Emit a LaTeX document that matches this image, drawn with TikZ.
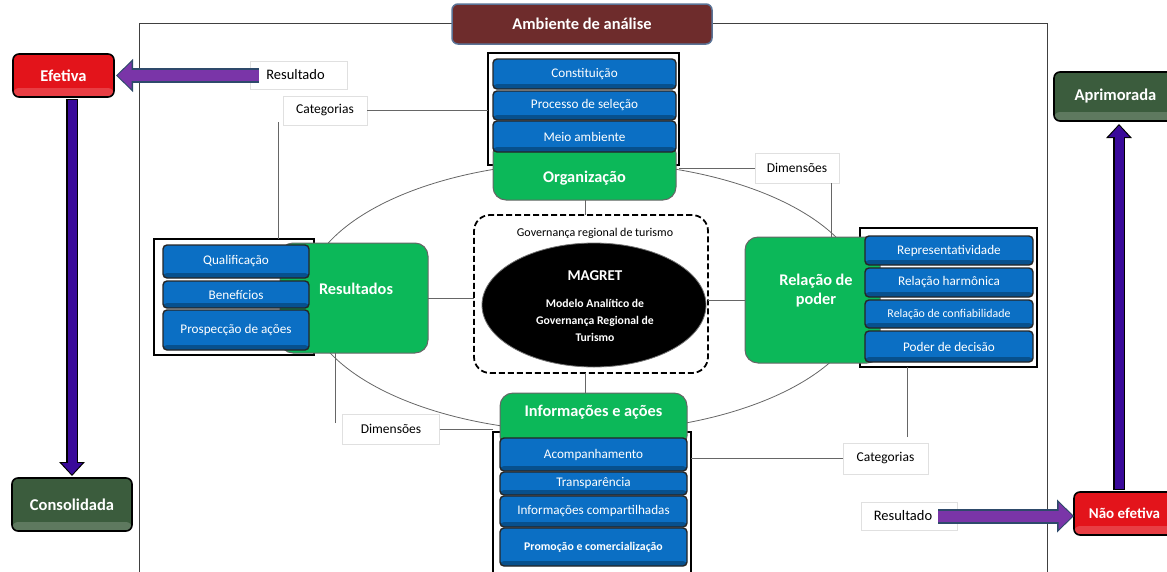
\documentclass[tikz,border=0pt]{standalone}
\usepackage{fontspec}
\setmainfont{Carlito}
\usetikzlibrary{arrows.meta,shapes.geometric}
\definecolor{blueC}{HTML}{0B6FC4}
\definecolor{greenC}{HTML}{0CB859}
\definecolor{redC}{HTML}{E3141B}
\definecolor{dgreenC}{HTML}{3B5C3D}
\definecolor{ambC}{HTML}{6E2C2C}
\definecolor{ambB}{HTML}{5A7396}
\definecolor{purpC}{HTML}{7A35A8}
\definecolor{purpB}{HTML}{2E4A6B}
\definecolor{indC}{HTML}{3A0A9A}
\begin{document}
\begin{tikzpicture}[x=1pt,y=-1pt,
  every node/.style={inner sep=0pt, outer sep=0pt},
  bbox/.style={draw=black!85, line width=1.4pt, fill=blueC, rounded corners=4pt, text=white,
    font=\fontsize{13.2}{15}\selectfont,
    path picture={\fill[black,opacity=.28] (path picture bounding box.south west) rectangle ([yshift=5pt]path picture bounding box.south east);}},
  grn/.style={draw=black!60, line width=1pt, fill=greenC, rounded corners=13pt},
  gtxt/.style={text=white, font=\bfseries\fontsize{16.3}{19}\selectfont, align=center},
  outer/.style={draw=black, line width=1.8pt},
  lbl/.style={draw=black!12, fill=white, line width=0.6pt, font=\fontsize{13.5}{16}\selectfont},
  conn/.style={draw=black!60, line width=0.9pt},
  btn/.style={draw=black, line width=1.6pt, rounded corners=6pt, text=white,
    font=\bfseries\fontsize{16.5}{19}\selectfont,
    path picture={\fill[white,opacity=.18] (path picture bounding box.south west) rectangle ([yshift=9pt]path picture bounding box.south east);}},
  fatout/.style={line width=15pt, draw=purpB, -{Triangle[length=17pt,width=32pt]}},
  fatin/.style={line width=11pt, draw=purpC, shorten >=1.5pt, -{Triangle[length=14pt,width=26pt]}},
  vout/.style={line width=12pt, draw=black, -{Triangle[length=14pt,width=25pt]}},
  vin/.style={line width=9pt, draw=indC, shorten >=1.5pt, -{Triangle[length=11.5pt,width=20pt]}}
]
\useasboundingbox (0,0) rectangle (1167,571);

% frame
\draw[black!75, line width=1pt] (139,580) -- (139,23) -- (1047,23) -- (1047,580);
% big ellipse
\draw[black!60, line width=0.8pt] (585,297) ellipse [x radius=280, y radius=135];

% Ambiente
\node[draw=ambB, line width=1.5pt, fill=ambC, rounded corners=6pt, text=white,
  font=\bfseries\fontsize{16.4}{19}\selectfont, minimum width=260pt, minimum height=40pt] (amb) at (582,24) {Ambiente de análise};

% ---------- labels ----------
\node[lbl, minimum width=97pt, minimum height=28pt, font=\fontsize{14.5}{17}\selectfont] (resTop) at (298.5,75) {\hspace*{-6pt}Resultado};
\node[lbl, minimum width=84pt, minimum height=29pt] (catTL) at (325,110.5) {Categorias};
\node[lbl, minimum width=84pt, minimum height=30pt] (dimTR) at (797,168) {Dimensões};
\node[lbl, minimum width=85pt, minimum height=31pt] (catBR) at (885.5,458.5) {Categorias};
\node[lbl, minimum width=96pt, minimum height=28pt, font=\fontsize{14.5}{17}\selectfont] (resBR) at (909,516) {Resultado\hspace*{12pt}};
\node[lbl, minimum width=97pt, minimum height=30pt] (dimBL) at (391,429) {Dimensões};

% ---------- Organização ----------
\node[outer, minimum width=191pt, minimum height=112pt] (orgO) at (583.5,109) {};
\node[grn, minimum width=183pt, minimum height=60pt] (orgG) at (584.5,170) {};
\node[gtxt] (orgT) at (584.5,178) {Organização};
\node[bbox, minimum width=183pt, minimum height=30pt] (o1) at (584.5,74) {Constituição};
\node[bbox, minimum width=183pt, minimum height=29pt] (o2) at (584.5,105.5) {Processo de seleção};
\node[bbox, minimum width=183pt, minimum height=31pt] (o3) at (584.5,136.5) {Meio ambiente};

% ---------- Resultados ----------
\node[outer, minimum width=160pt, minimum height=116pt] (resO) at (234,297) {};
\node[grn, minimum width=148pt, minimum height=110pt] (resG) at (354,298) {};
\node[gtxt] (resT) at (356,289) {Resultados};
\node[bbox, minimum width=146pt, minimum height=33pt] (r1) at (236,261.5) {Qualificação};
\node[bbox, minimum width=146pt, minimum height=27pt] (r2) at (236,294.5) {Benefícios};
\node[bbox, minimum width=146pt, minimum height=40pt] (r3) at (236,330) {Prospecção de ações};

% ---------- Relação de poder ----------
\node[outer, minimum width=177pt, minimum height=139pt] (relO) at (948.5,297.5) {};
\node[grn, minimum width=135pt, minimum height=126pt] (relG) at (812.5,300) {};
\node[gtxt] (relT) at (816,291) {Relação de\\poder};
\node[bbox, minimum width=168pt, minimum height=29pt] (p1) at (949,250.5) {Representatividade};
\node[bbox, minimum width=168pt, minimum height=29pt] (p2) at (949,282.5) {Relação harmônica};
\node[bbox, minimum width=168pt, minimum height=28pt, font=\fontsize{11.9}{14}\selectfont] (p3) at (949,314) {Relação de confiabilidade};
\node[bbox, minimum width=168pt, minimum height=31pt] (p4) at (949,346.5) {Poder de decisão};

% ---------- Informações e ações ----------
\node[outer, minimum width=198pt, minimum height=148pt] (infO) at (592,506) {};
\node[grn, minimum width=187pt, minimum height=56pt] (infG) at (593.5,421) {};
\node[gtxt] (infT) at (593.5,412) {Informações e ações};
\node[bbox, minimum width=187pt, minimum height=33pt] (i1) at (593.5,454.5) {Acompanhamento};
\node[bbox, minimum width=187pt, minimum height=23pt] (i2) at (593.5,483.5) {Transparência};
\node[bbox, minimum width=187pt, minimum height=31pt] (i3) at (593.5,511.5) {Informações compartilhadas};
\node[bbox, minimum width=187pt, minimum height=38pt, font=\bfseries\fontsize{11.8}{14}\selectfont] (i4) at (593.5,547) {Promoção e comercialização};

% ---------- centre ----------
\node[draw=black, line width=1.8pt, dash pattern=on 6pt off 3pt, rounded corners=16pt,
  minimum width=234pt, minimum height=158pt] (ctr) at (591,294) {};
\node[font=\fontsize{12}{14}\selectfont] (gov) at (595,233) {Governança regional de turismo};
\node[ellipse, fill=black, draw=black!55, line width=0.8pt, minimum width=224pt, minimum height=124pt] (mag) at (594,305) {};
\node[text=white, font=\bfseries\fontsize{15}{17}\selectfont] (magT) at (595,276) {MAGRET};
\node[text=white, align=center, font=\bfseries\fontsize{11.7}{17}\selectfont] (magD) at (595,320) {Modelo Analítico de\\Governança Regional de\\Turismo};

% ---------- connectors ----------
\coordinate (cv) at (585,0);
\draw[conn] (orgG.south -| cv) -- (ctr.north -| cv);
\draw[conn] (ctr.south -| cv) -- (infG.north -| cv);
\draw[conn] (resG.east) -- (resG.east -| ctr.west);
\draw[conn] (relG.west) -- (relG.west -| ctr.east);
\draw[conn] (catTL.east) -- (catTL.east -| orgO.west);
\coordinate (c1) at (278,122);
\draw[conn] (c1) -- (c1 |- resO.north);
\draw[conn] (dimTR.west) -- (dimTR.west -| orgO.east);
\coordinate (c2) at (831,183);
\draw[conn] (c2) -- (c2 |- relG.north);
\draw[conn] (catBR.west) -- (catBR.west -| infO.east);
\coordinate (c3) at (907,437);
\draw[conn] (c3) -- (c3 |- relO.south);
\draw[conn] (dimBL.east) -- (dimBL.east -| infO.west);
\coordinate (c4) at (335,423);
\draw[conn] (c4) -- (c4 |- resG.south);

% ---------- outcome buttons ----------
\node[btn, fill=redC, minimum width=101pt, minimum height=43pt, font=\bfseries\fontsize{16.5}{19}\selectfont] (efet) at (63.5,75.5) {Efetiva};
\node[btn, fill=dgreenC, minimum width=120pt, minimum height=53pt] (cons) at (72,504.5) {Consolidada};
\node[btn, fill=dgreenC, minimum width=123pt, minimum height=49pt] (aprim) at (1115.5,96.5) {Aprimorada};
\node[btn, fill=redC, minimum width=101pt, minimum height=43pt, font=\bfseries\fontsize{15}{17}\selectfont] (nefet) at (1124.5,513.5) {Não efetiva};

% ---------- fat arrows ----------
\coordinate (a1) at ([xshift=9pt]resTop.west);
\draw[fatout] (a1 |- efet.east) -- ([xshift=2pt]efet.east);
\draw[fatin] (a1 |- efet.east) -- ([xshift=2pt]efet.east);
\coordinate (a2) at ([xshift=-19pt]resBR.east);
\draw[fatout] (a2) -- (a2 -| nefet.west);
\draw[fatin] (a2) -- (a2 -| nefet.west);
\draw[vout] ([yshift=-2pt]efet.south -| cons.north) -- ([yshift=2pt]cons.north);
\draw[vin] ([yshift=-3pt]efet.south -| cons.north) -- ([yshift=2pt]cons.north);
\coordinate (a3) at (1119,0);
\draw[vout] ([yshift=2pt]nefet.north -| a3) -- ([yshift=-3pt]aprim.south -| a3);
\draw[vin] ([yshift=3pt]nefet.north -| a3) -- ([yshift=-3pt]aprim.south -| a3);
\end{tikzpicture}
\end{document}
